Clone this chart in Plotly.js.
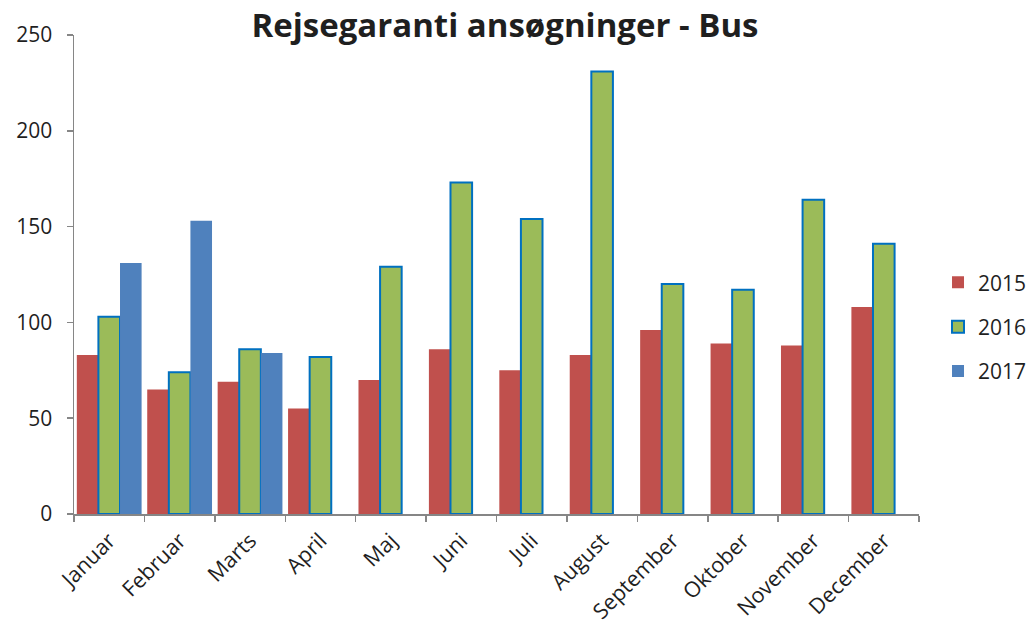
<!DOCTYPE html>
<html>
<head>
<meta charset="utf-8">
<script src="https://cdn.plot.ly/plotly-3.0.1.min.js"></script>
<style>html,body{margin:0;padding:0;background:#fff;}#chart{width:1030px;height:628px;}</style>
</head>
<body>
<div id="chart"></div>
<script>
const months = ["Januar","Februar","Marts","April","Maj","Juni","Juli","August","September","Oktober","November","December"];
const values2015 = [83,65,69,55,70,86,75,83,96,89,88,108];
const values2016 = [103,74,86,82,129,173,154,231,120,117,164,141];
const values2017 = [131,153,84,null,null,null,null,null,null,null,null,null];
const seriesNames = ["2015","2016","2017"];
const yTicks = [0,50,100,150,200,250];

const font = "Open Sans, Noto Sans, sans-serif";
const textColor = "#1f1f1f";
const axisColor = "#868686";

const traces = [
  {type:"bar", name:seriesNames[0], x:months, y:values2015, legendgroup:"a",
   marker:{color:"#C0504D", line:{width:0}}},
  {type:"bar", name:seriesNames[1], x:months, y:values2016, legendgroup:"b",
   marker:{color:"#9BBB59", line:{color:"#0070C0", width:2}}},
  {type:"bar", name:seriesNames[2], x:months, y:values2017, legendgroup:"c",
   marker:{color:"#4F81BD", line:{width:0}}}
];

const layout = {
  width:1030, height:628,
  paper_bgcolor:"#fff", plot_bgcolor:"#fff",
  margin:{l:74, r:111, t:35, b:114, autoexpand:false},
  barmode:"group", bargap:0.08, bargroupgap:0,
  font:{family:font, size:21, color:textColor},
  title:{text:"Rejsegaranti ansøgninger - Bus", x:0.51, xref:"paper", xanchor:"center",
         yref:"container", y:0.941, yanchor:"bottom",
         font:{family:font, size:33, color:textColor, weight:"bold"}},
  xaxis:{type:"category", showgrid:false, showline:true, linecolor:axisColor, linewidth:1.5,
         ticks:"outside", tickson:"boundaries", ticklen:6, tickcolor:axisColor, tickwidth:1.5,
         tickangle:-45, ticklabelstandoff:4, automargin:false,
         tickfont:{family:font, size:21.5, color:textColor}, zeroline:false},
  yaxis:{range:[0,250], tickvals:yTicks, showgrid:false, showline:true, linecolor:axisColor, linewidth:1.5,
         ticks:"outside", ticklen:6, tickcolor:axisColor, tickwidth:1.5, zeroline:false, automargin:false,
         ticklabelstandoff:10, tickfont:{family:font, size:21, color:textColor}},
  legend:{x:1.0225, xanchor:"left", y:0.391, yanchor:"middle", tracegroupgap:14,
          font:{family:font, size:21, color:textColor}, itemwidth:30},
  showlegend:true
};

Plotly.newPlot("chart", traces, layout, {displayModeBar:false, staticPlot:true});
</script>
</body>
</html>
